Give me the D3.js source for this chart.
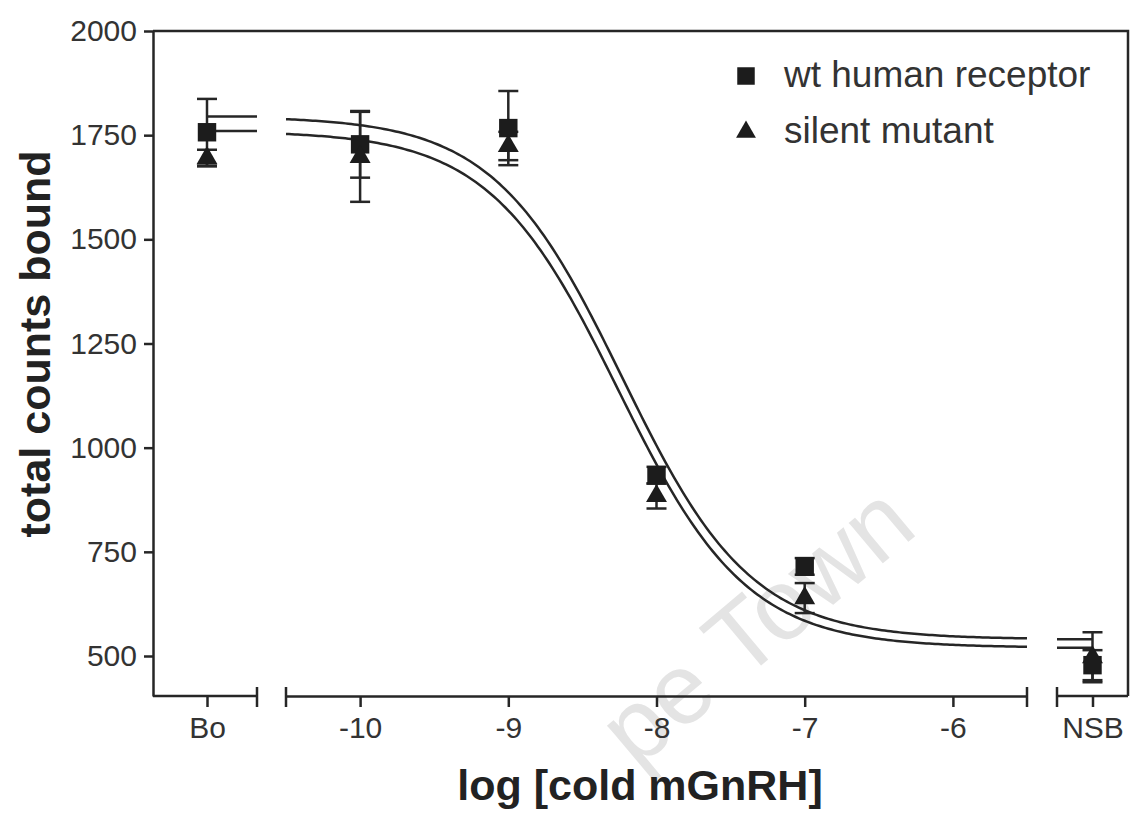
<!DOCTYPE html>
<html>
<head>
<meta charset="utf-8">
<script src="https://cdn.jsdelivr.net/npm/d3@7"></script>
<style>
  body { margin: 0; background: #fff; }
  svg { display: block; font-family: "Liberation Sans", Arial, sans-serif; }
</style>
</head>
<body>
<div id="chart"></div>
<script>
// data
const concs = ['Bo', -10, -9, -8, -7, 'NSB'];
const wtMean = [1757, 1728, 1767, 934, 715, 478];
const wtErr = [80, 80, 89, 20, 20, 36];
const mutMean = [1695, 1698, 1724, 884, 639, 497];
const mutErr = [20, 108, 34, 30, 36, 60];

// one-site fit parameters for the two curves (wt, mutant)
const fitTop = [1795, 1760];
const fitBottom = [540, 520];
const fitLogIC50 = [-8.23, -8.26];

const yTicks = [500, 750, 1000, 1250, 1500, 1750, 2000];
const xTicks = [-10, -9, -8, -7, -6];
const seriesNames = ['wt human receptor', 'silent mutant'];

const width = 1130;
const height = 813;
const ink = '#262626';

const svg = d3
  .select('#chart')
  .append('svg')
  .attr('width', width)
  .attr('height', height);

// faint watermark behind everything (only the part that shows)
svg
  .append('text')
  .attr('transform', 'translate(920,532) rotate(-40)')
  .attr('text-anchor', 'end')
  .attr('font-size', 100)
  .attr('fill', '#e4e4e4')
  .text('pe Town');

const y = d3.scaleLinear().domain([404, 2000]).range([696, 31]);
const xBo = d3.scalePoint().domain(['Bo']).range([155, 259]).padding(0.5);
const xLog = d3.scaleLinear().domain([-10.5, -5.5]).range([286, 1027]);
const xNsb = d3.scalePoint().domain(['NSB']).range([1057, 1128]).padding(0.5);

function xPos(c) {
  if (c === 'Bo') return xBo(c);
  if (c === 'NSB') return xNsb(c);
  return xLog(c);
}

function styleAxis(g, size) {
  g.selectAll('path, line').attr('stroke', ink).attr('stroke-width', 2.5);
  g.selectAll('text')
    .attr('font-size', size)
    .attr('fill', '#333')
    .attr('font-family', '"Liberation Sans", Arial, sans-serif');
}

// y axis
svg
  .append('g')
  .attr('transform', 'translate(153,0)')
  .call(
    d3
      .axisLeft(y)
      .tickValues(yTicks)
      .tickFormat(d => String(d))
      .tickSize(9)
      .tickSizeOuter(0)
      .tickPadding(7)
  )
  .call(g => styleAxis(g, 30));

// broken x axis, three pieces
const xAxes = [
  d3.axisBottom(xBo),
  d3.axisBottom(xLog).tickValues(xTicks).tickFormat(d => String(d)),
  d3.axisBottom(xNsb)
];
xAxes.forEach(function(ax, i) {
  const g = svg
    .append('g')
    .attr('transform', 'translate(0,696)')
    .call(ax.tickSize(11).tickSizeOuter(0).tickPadding(10))
    .call(g => styleAxis(g, 30));
  // first piece starts at the y axis corner
  if (i === 0) g.select('.domain').attr('d', 'M153,0H257');
  if (i === 2) g.select('.domain').attr('d', 'M1057,0H1128');
});

// caps at the axis breaks
const caps = [257, xLog.range()[0], xLog.range()[1], xNsb.range()[0]];
svg
  .selectAll('line.cap')
  .data(caps)
  .enter()
  .append('line')
  .attr('class', 'cap')
  .attr('x1', d => d)
  .attr('x2', d => d)
  .attr('y1', 687)
  .attr('y2', 707)
  .attr('stroke', ink)
  .attr('stroke-width', 2.5);

// frame top and right
svg
  .append('path')
  .attr('d', `M153,${y(2000)}H1128V696`)
  .attr('fill', 'none')
  .attr('stroke', ink)
  .attr('stroke-width', 2.5);

// fitted curves
const line = d3
  .line()
  .x(d => xLog(d[0]))
  .y(d => y(d[1]));

fitTop.forEach(function(top, i) {
  const bottom = fitBottom[i];
  const c = fitLogIC50[i];
  const pts = d3.range(-10.5, -5.499, 0.02).map(function(lx) {
    return [lx, bottom + (top - bottom) / (1 + Math.pow(10, lx - c))];
  });
  svg
    .append('path')
    .attr('d', line(pts))
    .attr('fill', 'none')
    .attr('stroke', ink)
    .attr('stroke-width', 2.5);
  // plateau lines in the Bo and NSB pieces
  svg
    .append('line')
    .attr('x1', xBo('Bo'))
    .attr('x2', 257)
    .attr('y1', y(top))
    .attr('y2', y(top))
    .attr('stroke', ink)
    .attr('stroke-width', 2.5);
  svg
    .append('line')
    .attr('x1', xNsb.range()[0])
    .attr('x2', xNsb('NSB'))
    .attr('y1', y(bottom))
    .attr('y2', y(bottom))
    .attr('stroke', ink)
    .attr('stroke-width', 2.5);
});

// error bars
const series = [
  { mean: wtMean, err: wtErr, symbol: d3.symbolSquare, size: 340 },
  { mean: mutMean, err: mutErr, symbol: d3.symbolTriangle, size: 190 }
];

series.forEach(function(s) {
  const g = svg.append('g');
  concs.forEach(function(c, i) {
    const x0 = xPos(c);
    const hi = y(s.mean[i] + s.err[i]);
    const lo = y(s.mean[i] - s.err[i]);
    g.append('line')
      .attr('x1', x0).attr('x2', x0)
      .attr('y1', hi).attr('y2', lo)
      .attr('stroke', ink).attr('stroke-width', 2.5);
    [hi, lo].forEach(function(yy) {
      g.append('line')
        .attr('x1', x0 - 10).attr('x2', x0 + 10)
        .attr('y1', yy).attr('y2', yy)
        .attr('stroke', ink).attr('stroke-width', 2.5);
    });
  });
});

// markers
series.forEach(function(s) {
  svg
    .append('g')
    .selectAll('path')
    .data(concs)
    .enter()
    .append('path')
    .attr('d', d3.symbol(s.symbol, s.size))
    .attr('transform', (c, i) => `translate(${xPos(c)},${y(s.mean[i])})`)
    .attr('fill', '#1c1c1c');
});

// legend
const legend = svg.append('g').attr('transform', 'translate(746,76)');
series.forEach(function(s, i) {
  const row = legend.append('g').attr('transform', `translate(0,${i * 56})`);
  row.append('path')
    .attr('d', d3.symbol(s.symbol, s.size * 0.9))
    .attr('fill', '#1c1c1c');
  row.append('text')
    .attr('x', 38)
    .attr('y', 11)
    .attr('font-size', 37)
    .attr('fill', '#333')
    .text(seriesNames[i]);
});

// axis titles
svg
  .append('text')
  .attr('x', 640)
  .attr('y', 800)
  .attr('text-anchor', 'middle')
  .attr('font-size', 43)
  .attr('font-weight', 'bold')
  .attr('fill', '#222')
  .text('log [cold mGnRH]');

svg
  .append('text')
  .attr('transform', 'translate(50,344) rotate(-90)')
  .attr('text-anchor', 'middle')
  .attr('font-size', 43)
  .attr('font-weight', 'bold')
  .attr('fill', '#222')
  .text('total counts bound');
</script>
</body>
</html>
